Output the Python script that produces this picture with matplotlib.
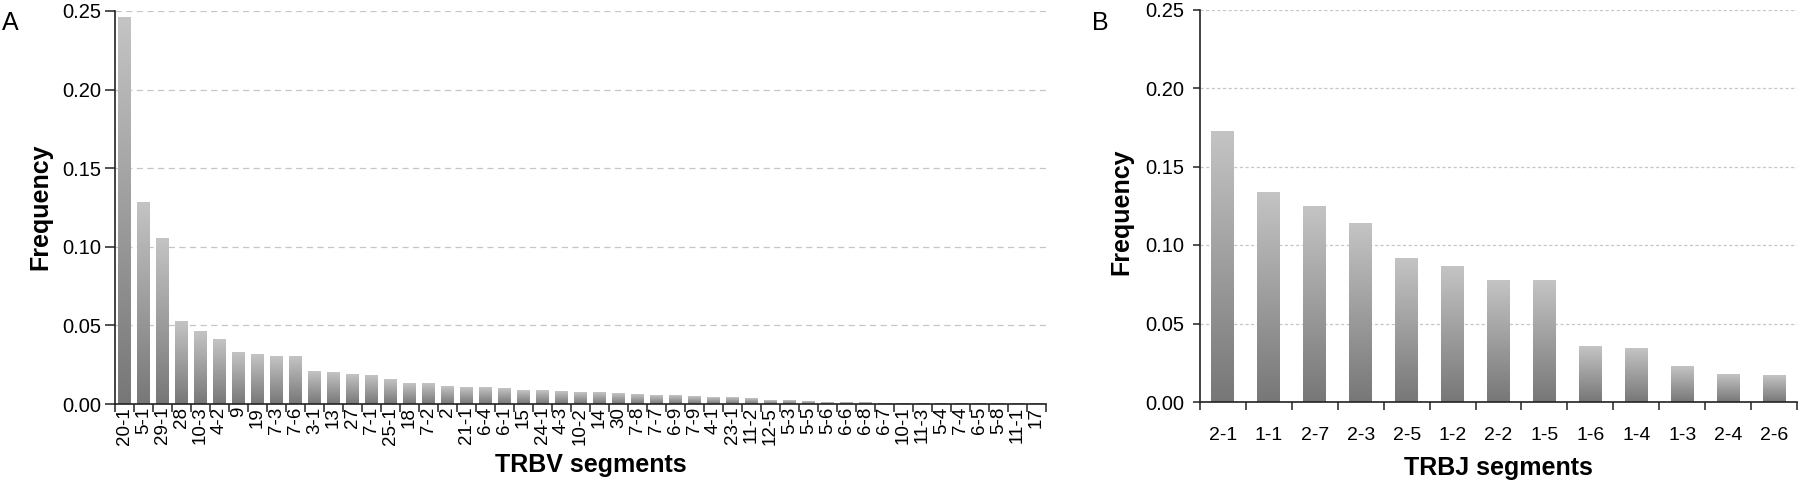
import numpy as np
import matplotlib
matplotlib.use("Agg")
import matplotlib.pyplot as plt
from matplotlib.colors import LinearSegmentedColormap

plt.rcParams['font.family'] = ['Liberation Sans', 'DejaVu Sans']

# ---------------- data ----------------
trbv_labels = ["20-1", "5-1", "29-1", "28", "10-3", "4-2", "9", "19", "7-3", "7-6",
               "3-1", "13", "27", "7-1", "25-1", "18", "7-2", "2", "21-1", "6-4",
               "6-1", "15", "24-1", "4-3", "10-2", "14", "30", "7-8", "7-7", "6-9",
               "7-9", "4-1", "23-1", "11-2", "12-5", "5-3", "5-5", "5-6", "6-6", "6-8",
               "6-7", "10-1", "11-3", "5-4", "7-4", "6-5", "5-8", "11-1", "17"]
trbv_freq = [0.2457, 0.1280, 0.1054, 0.0524, 0.0464, 0.0411, 0.0329, 0.0318, 0.0305, 0.0299,
             0.0206, 0.0199, 0.0187, 0.0182, 0.0159, 0.0132, 0.0129, 0.0110, 0.0104, 0.0102,
             0.0100, 0.0087, 0.0085, 0.0078, 0.0076, 0.0072, 0.0066, 0.0059, 0.0053, 0.0051,
             0.0047, 0.0041, 0.0039, 0.0036, 0.0025, 0.0021, 0.0017, 0.0008, 0.0008, 0.0007,
             0.0006, 0.0006, 0.0005, 0.0004, 0.0003, 0.0003, 0.0002, 0.0001, 0.0001]

trbj_labels = ["2-1", "1-1", "2-7", "2-3", "2-5", "1-2", "2-2", "1-5", "1-6", "1-4",
               "1-3", "2-4", "2-6"]
trbj_freq = [0.1725, 0.1332, 0.1245, 0.1134, 0.0913, 0.0860, 0.0777, 0.0773, 0.0353,
             0.0342, 0.0229, 0.0176, 0.0168]

yticks = [0.00, 0.05, 0.10, 0.15, 0.20, 0.25]

# ---------------- figure ----------------
W, H = 1800, 482
fig = plt.figure(figsize=(W / 100, H / 100), dpi=100)

cmap = LinearSegmentedColormap.from_list("g", ["#777777", "#c4c4c4"])
grad = np.linspace(0, 1, 256).reshape(-1, 1)


def fx(px):
    return px / W


def fy(py):
    return 1 - py / H


def draw_panel(ax, labels, vals, width, grid_dash, xtick_rot, xtick_size, xpad, ytick_pad, ytick_len):
    n = len(labels)
    x = np.arange(n)
    bars = ax.bar(x, vals, width=width, facecolor="none", edgecolor="none", zorder=2)
    for p in bars:
        x0, w, h = p.get_x(), p.get_width(), p.get_height()
        ax.imshow(grad, extent=[x0, x0 + w, 0, h], origin="lower", aspect="auto",
                  cmap=cmap, vmin=0, vmax=1, zorder=2, interpolation="bilinear")
    ax.set_xlim(-0.5, n - 0.5)
    ax.set_ylim(0, 0.25)
    ax.set_yticks(yticks)
    ax.set_yticklabels([f"{v:.2f}" for v in yticks], fontsize=14.5)
    ax.yaxis.grid(True, linestyle=grid_dash, color="#c6c6c6", linewidth=0.9)
    ax.set_axisbelow(True)
    ax.set_xticks(x)
    ax.set_xticklabels(labels, rotation=xtick_rot, fontsize=xtick_size)
    ax.set_xticks(np.arange(n + 1) - 0.5, minor=True)
    ax.tick_params(axis="x", which="major", length=0, pad=xpad)
    ax.tick_params(axis="x", which="minor", length=6, width=1.1, color="#222222", direction="out")
    ax.tick_params(axis="y", which="major", length=ytick_len, width=1.1, color="#222222",
                   direction="out", pad=ytick_pad)
    for s in ["top", "right"]:
        ax.spines[s].set_visible(False)
    for s in ["left", "bottom"]:
        ax.spines[s].set_color("#222222")
        ax.spines[s].set_linewidth(1.2)


# Panel A
axA = fig.add_axes([fx(115), fy(404), fx(1046) - fx(115), fy(11) - fy(404)])
draw_panel(axA, trbv_labels, trbv_freq, 0.65, (0, (5, 3.5)), 90, 13.5, 2, 3, 7)
for t in axA.get_xticklabels():
    t.set_va("top")

# Panel B
axB = fig.add_axes([fx(1200), fy(402), fx(1797) - fx(1200), fy(9.5) - fy(402)])
draw_panel(axB, trbj_labels, trbj_freq, 0.5, (0, (2.5, 2)), 0, 14, 18, 6, 5)

# Axis titles
fig.text(fx(591), fy(472), "TRBV segments", fontsize=18, fontweight="bold",
         ha="center", va="baseline")
fig.text(fx(1498), fy(475), "TRBJ segments", fontsize=18, fontweight="bold",
         ha="center", va="baseline")
fig.text(fx(40), fy(207), "Frequency", fontsize=18, fontweight="bold",
         rotation=90, ha="center", va="center")
fig.text(fx(1121), fy(212), "Frequency", fontsize=18, fontweight="bold",
         rotation=90, ha="center", va="center")

# Panel letters
fig.text(fx(2), fy(11), "A", fontsize=18, ha="left", va="top")
fig.text(fx(1092), fy(11), "B", fontsize=18, ha="left", va="top")

fig.savefig("out.png", dpi=100)
